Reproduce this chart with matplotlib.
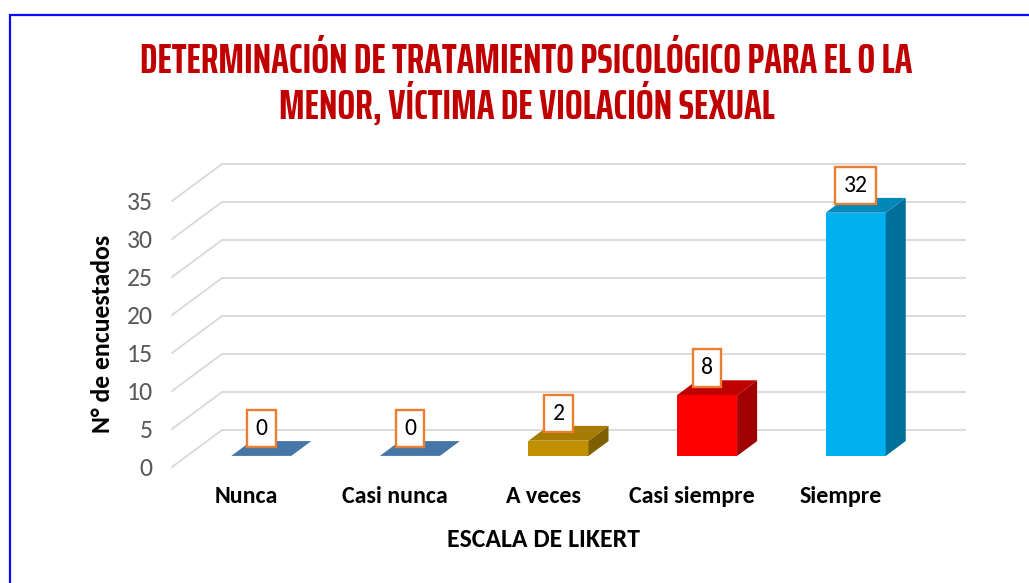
import numpy as np
import matplotlib
matplotlib.use('Agg')
import matplotlib.pyplot as plt
from matplotlib.patches import Polygon, Rectangle

categories = ['Nunca', 'Casi nunca', 'A veces', 'Casi siempre', 'Siempre']
values = [0, 0, 2, 8, 32]
yticks = [0, 5, 10, 15, 20, 25, 30, 35]
front_cols = ['#4676A6', '#4676A6', '#C09000', '#FF0000', '#00B0F0']
top_cols = ['#4676A6', '#4676A6', '#A57C00', '#C00000', '#0088BA']
side_cols = ['#3A6290', '#3A6290', '#7F6000', '#A00000', '#00709A']

title = 'DETERMINACIÓN DE TRATAMIENTO PSICOLÓGICO PARA EL O LA\nMENOR, VÍCTIMA DE VIOLACIÓN SEXUAL'
ylabel = 'N° de encuestados'
xlabel = 'ESCALA DE LIKERT'

body = ['Carlito', 'Lato', 'DejaVu Sans']
tfont = ['Saira ExtraCondensed', 'Oswald', 'DejaVu Sans']

W, H = 1029, 583
fig = plt.figure(figsize=(W/100, H/100), dpi=100)

# blue frame round the chart area
fig.patches.append(Rectangle((10/W, -0.05), 1.1, (H-15)/H + 0.05, transform=fig.transFigure,
                             fill=False, edgecolor='#0A0AFF', linewidth=1.6, clip_on=False))

fig.text(526.5/W, 1 - 84/H, title, ha='center', va='center', color='#C00000',
         fontsize=30.3, fontweight='bold', family=tfont, linespacing=1.06)

# axes = front plane of the 3d box
x0, x1, yb, yt = 172, 915, 467, 201
ax = fig.add_axes([x0/W, (H-yb)/H, (x1-x0)/W, (yb-yt)/H])
ax.set_xlim(-0.5, 4.5)
ax.set_ylim(0, 35)
for s in ax.spines.values():
    s.set_visible(False)

# full depth offset in data units
DX = 50/((x1-x0)/5.)
DY = 37/((yb-yt)/35.)

gcol = '#D9D9D9'
for v in yticks:
    ax.plot([-0.5, -0.5+DX], [v, v+DY], color=gcol, lw=1.3, clip_on=False, zorder=1)
    ax.plot([-0.5+DX, 4.5+DX], [v+DY, v+DY], color=gcol, lw=1.3, clip_on=False, zorder=1)

w = 0.404
f0, f1 = 0.3, 0.7
for i, v in enumerate(values):
    xl = i - w/2 + f0*DX
    xr = i + w/2 + f0*DX
    yb0 = f0*DY
    ytop = v + f0*DY
    ddx = (f1-f0)*DX
    ddy = (f1-f0)*DY
    if v > 0:
        ax.add_patch(Polygon([[xl, yb0], [xr, yb0], [xr, ytop], [xl, ytop]], closed=True,
                             facecolor=front_cols[i], edgecolor='none', clip_on=False, zorder=3))
        ax.add_patch(Polygon([[xr, yb0], [xr+ddx, yb0+ddy], [xr+ddx, ytop+ddy], [xr, ytop]], closed=True,
                             facecolor=side_cols[i], edgecolor='none', clip_on=False, zorder=3))
    ax.add_patch(Polygon([[xl, ytop], [xr, ytop], [xr+ddx, ytop+ddy], [xl+ddx, ytop+ddy]], closed=True,
                         facecolor=top_cols[i], edgecolor='none', clip_on=False, zorder=3))
    ax.annotate(str(v), (i + f0*DX, ytop), xytext=(0, 12), textcoords='offset points',
                ha='center', va='bottom', fontsize=17, family=body, color='black', zorder=5,
                bbox=dict(boxstyle='square,pad=0.35', facecolor='white', edgecolor='#ED7D31', linewidth=1.7))

ax.set_yticks(yticks)
ax.set_yticklabels([str(t) for t in yticks], fontsize=18.5, family=body, color='#595959')
ax.set_xticks(range(len(categories)))
ax.set_xticklabels(categories, fontsize=17.3, family=body, fontweight='bold', color='black')
ax.tick_params(axis='y', length=0, pad=14)
ax.tick_params(axis='x', length=0, pad=14)

ax.set_ylabel(ylabel, fontsize=18.5, family=body, fontweight='bold')
ax.yaxis.set_label_coords(-0.078, 0.5)
ax.set_xlabel(xlabel, fontsize=18.5, family=body, fontweight='bold')
ax.xaxis.set_label_coords(0.5, -0.228)

fig.savefig('out.png', dpi=100)
